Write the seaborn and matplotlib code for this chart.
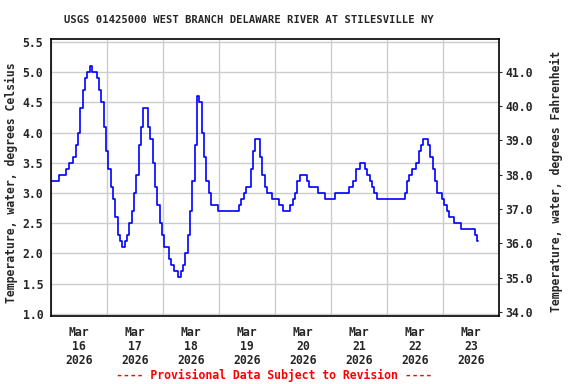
import numpy as np
import pandas as pd
import matplotlib
matplotlib.use("Agg")
import matplotlib.pyplot as plt
import seaborn as sns

# hourly water temperature (deg C)
mar16 = [3.2, 3.2, 3.2, 3.2, 3.3, 3.3, 3.3, 3.4, 3.5, 3.5, 3.6, 3.8,
         4.0, 4.4, 4.7, 4.9, 5.0, 5.1, 5.0, 5.0, 4.9, 4.7, 4.5, 4.1]
mar17 = [3.7, 3.4, 3.1, 2.9, 2.6, 2.3, 2.2, 2.1, 2.2, 2.3, 2.5, 2.7,
         3.0, 3.3, 3.8, 4.1, 4.4, 4.4, 4.1, 3.9, 3.5, 3.1, 2.8, 2.5]
mar18 = [2.3, 2.1, 2.1, 1.9, 1.8, 1.7, 1.7, 1.6, 1.7, 1.8, 2.0, 2.3,
         2.7, 3.2, 3.8, 4.6, 4.5, 4.0, 3.6, 3.2, 3.0, 2.8, 2.8, 2.8]
mar19 = [2.7, 2.7, 2.7, 2.7, 2.7, 2.7, 2.7, 2.7, 2.7, 2.8, 2.9, 3.0,
         3.1, 3.1, 3.4, 3.7, 3.9, 3.9, 3.6, 3.3, 3.1, 3.0, 3.0, 2.9]
mar20 = [2.9, 2.9, 2.8, 2.8, 2.7, 2.7, 2.7, 2.8, 2.9, 3.0, 3.2, 3.3,
         3.3, 3.3, 3.2, 3.1, 3.1, 3.1, 3.1, 3.0, 3.0, 3.0, 2.9, 2.9]
mar21 = [2.9, 2.9, 3.0, 3.0, 3.0, 3.0, 3.0, 3.0, 3.1, 3.1, 3.2, 3.4,
         3.4, 3.5, 3.5, 3.4, 3.3, 3.2, 3.1, 3.0, 2.9, 2.9, 2.9, 2.9]
mar22 = [2.9, 2.9, 2.9, 2.9, 2.9, 2.9, 2.9, 2.9, 3.0, 3.2, 3.3, 3.4,
         3.4, 3.5, 3.7, 3.8, 3.9, 3.9, 3.8, 3.6, 3.4, 3.2, 3.0, 3.0]
mar23 = [2.9, 2.8, 2.7, 2.6, 2.6, 2.5, 2.5, 2.5, 2.4, 2.4, 2.4, 2.4,
         2.4, 2.4, 2.3, 2.2]

temp_c = mar16 + mar17 + mar18 + mar19 + mar20 + mar21 + mar22 + mar23
times = pd.date_range("2026-03-16 00:00", periods=len(temp_c), freq="h")

day_lines = pd.date_range("2026-03-16", periods=9, freq="D")
day_labels = pd.date_range("2026-03-16 12:00", periods=8, freq="D")
c_ticks = [1.0, 1.5, 2.0, 2.5, 3.0, 3.5, 4.0, 4.5, 5.0, 5.5]
f_ticks = [34.0, 35.0, 36.0, 37.0, 38.0, 39.0, 40.0, 41.0]

title = "USGS 01425000 WEST BRANCH DELAWARE RIVER AT STILESVILLE NY"
footer = "---- Provisional Data Subject to Revision ----"

sns.set_style("white")
plt.rcParams["font.family"] = ["DejaVu Sans Mono"]
plt.rcParams["font.weight"] = "bold"

df = pd.DataFrame({"time": times, "temp": temp_c})

fig = plt.figure(figsize=(5.76, 3.84), dpi=100)
ax = fig.add_axes([51 / 576, 1 - 316 / 384, 448 / 576, 277 / 384])

sns.lineplot(data=df, x="time", y="temp", ax=ax, color="#0000ff",
             linewidth=1.2, drawstyle="steps-mid")

ax.set_xlim(day_lines[0], day_lines[-1])
ax.set_ylim(0.962, 5.551)
ax.set_yticks(c_ticks)
ax.set_yticklabels([f"{v:.1f}" for v in c_ticks])
ax.set_xticks(day_labels)
ax.set_xticklabels([f"Mar\n{d.day}\n2026" for d in day_labels])
ax.set_xticks(day_lines, minor=True)
for t in ax.get_xticklabels():
    t.set_linespacing(1.1)

ax.grid(False)
ax.grid(which="minor", axis="x", color="#cccccc", linewidth=1.0)
ax.grid(which="major", axis="y", color="#cccccc", linewidth=1.0)
ax.set_axisbelow(True)
ax.tick_params(axis="x", which="both", length=0, pad=7, labelsize=8.3)
ax.tick_params(axis="y", length=0, pad=5.5, labelsize=8.3)
ax.set_xlabel("")
ax.set_ylabel("")
for s in ax.spines.values():
    s.set_color("black")
    s.set_linewidth(1.2)

ax2 = ax.twinx()
ax2.set_ylim(33.88, 41.95)
ax2.set_yticks(f_ticks)
ax2.set_yticklabels([f"{v:.1f}" for v in f_ticks])
ax2.tick_params(axis="y", length=2.5, width=0.8, pad=2, labelsize=8.3, direction="out")
for s in ax2.spines.values():
    s.set_visible(False)

fig.text(248.5 / 576, 1 - 20 / 384, title, ha="center", va="center",
         fontsize=7.6, fontweight="bold")
fig.text(11 / 576, 1 - 182.7 / 384, "Temperature, water, degrees Celsius",
         rotation=90, ha="center", va="center", fontsize=8.3, fontweight="bold")
fig.text(556.7 / 576, 1 - 181 / 384, "Temperature, water, degrees Fahrenheit",
         rotation=90, ha="center", va="center", fontsize=8.3, fontweight="bold")
fig.text(274 / 576, 1 - 375 / 384, footer, ha="center", va="center",
         fontsize=8.3, color="#ff0000", fontweight="bold")

fig.savefig("out.png", dpi=100)
